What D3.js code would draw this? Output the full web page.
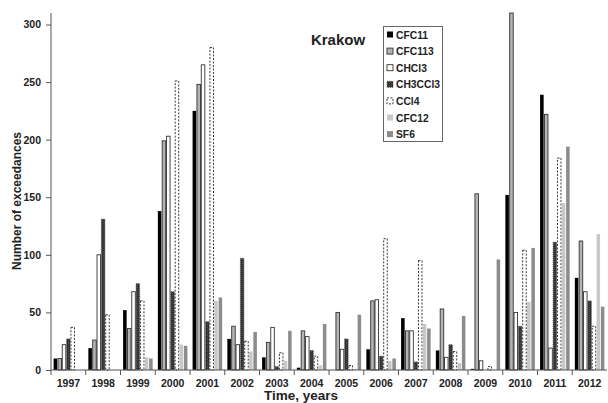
<!DOCTYPE html>
<html>
<head>
<meta charset="utf-8">
<script src="https://cdn.jsdelivr.net/npm/d3@7"></script>
<style>
  body { margin: 0; background: #fff; }
  text { font-family: Arial, "Liberation Sans", sans-serif; font-weight: bold; fill: #222; }
</style>
</head>
<body>
<svg id="chart" width="608" height="403"></svg>
<script>
const years = ["1997","1998","1999","2000","2001","2002","2003","2004","2005","2006","2007","2008","2009","2010","2011","2012"];
const seriesNames = ["CFC11","CFC113","CHCl3","CH3CCl3","CCl4","CFC12","SF6"];

const cfc11   = [10, 19, 52, 138, 225, 27, 11,  2,  0, 18, 45, 17,   1, 152, 239,  80];
const cfc113  = [10, 26, 36, 199, 248, 38, 24, 34, 50, 60, 34, 53, 153, 310, 222, 112];
const chcl3   = [22,100, 68, 203, 265, 22, 37, 29, 18, 61, 34, 11,   8,  50,  19,  68];
const ch3ccl3 = [27,131, 75,  68,  42, 97,  3, 17, 27, 12,  7, 22,   0,  38, 111,  60];
const ccl4    = [37, 48, 60, 251, 280, 25, 15, 12,  4,114, 95, 16,   3, 104, 184,  38];
const cfc12   = [ 0,  0, 11,  22,  60, 16,  8,  4,  1,  8, 40,  6,   0,  59, 145, 118];
const sf6     = [ 0,  0, 10,  21,  63, 33, 34, 40, 48, 10, 36, 47,  96, 106, 194,  55];

const yTicks = [0, 50, 100, 150, 200, 250, 300];

const allSeries = [cfc11, cfc113, chcl3, ch3ccl3, ccl4, cfc12, sf6];

// bar looks per series
const looks = {
  "CFC11":   {fill: "#000", stroke: "none", dash: null},
  "CFC113":  {fill: "#b4b4b4", stroke: "#333", dash: null},
  "CHCl3":   {fill: "#fff", stroke: "#333", dash: null},
  "CH3CCl3": {fill: "url(#speckle)", stroke: "#555", dash: "1,1"},
  "CCl4":    {fill: "#fff", stroke: "#222", dash: "2,1.5"},
  "CFC12":   {fill: "#c8c8c8", stroke: "none", dash: null},
  "SF6":     {fill: "#8c8c8c", stroke: "none", dash: null}
};

const svg = d3.select("#chart");

// speckled pattern for CH3CCl3
const pat = svg.append("defs").append("pattern")
  .attr("id", "speckle")
  .attr("width", 2).attr("height", 2)
  .attr("patternUnits", "userSpaceOnUse");
pat.append("rect").attr("width", 2).attr("height", 2).attr("fill", "#2e2e2e");
pat.append("rect").attr("x", 1).attr("y", 1).attr("width", 1).attr("height", 1).attr("fill", "#555");

const plotLeft = 51, plotRight = 607, plotTop = 13, plotBottom = 370;

let x0 = d3.scaleBand()
  .domain(years)
  .range([plotLeft, plotRight]);

let x1 = d3.scaleBand()
  .domain(seriesNames)
  .range([2.2, x0.bandwidth() - 2.2]);

let y = d3.scaleLinear()
  .domain([0, 310])
  .range([plotBottom, plotTop]);

// bars
years.forEach(function(yr, i) {
  let g = svg.append("g").attr("transform", "translate(" + x0(yr) + ",0)");
  seriesNames.forEach(function(name, j) {
    let v = allSeries[j][i];
    if (v <= 0) return;
    let lk = looks[name];
    g.append("rect")
      .attr("x", x1(name) + 0.4)
      .attr("y", y(v))
      .attr("width", x1.bandwidth() - 0.8)
      .attr("height", y(0) - y(v))
      .attr("fill", lk.fill)
      .attr("stroke", lk.stroke)
      .attr("stroke-width", 0.9)
      .attr("stroke-dasharray", lk.dash);
  });
});

// y axis
let yAxis = svg.append("g")
  .attr("transform", "translate(" + plotLeft + ",0)")
  .call(d3.axisLeft(y).tickValues(yTicks).tickSize(5).tickPadding(5));
yAxis.select(".domain").attr("d", "M0," + plotTop + "V" + plotBottom).attr("stroke", "#555");
yAxis.selectAll(".tick line").attr("stroke", "#555");
yAxis.selectAll("text").style("font-size", "10.5px").style("font-family", "Arial, 'Liberation Sans', sans-serif").style("font-weight", "bold").attr("fill", "#222");

// x axis
let xAxis = svg.append("g")
  .attr("transform", "translate(0," + plotBottom + ")")
  .call(d3.axisBottom(x0).tickSize(0).tickPadding(10));
xAxis.select(".domain").attr("d", "M" + plotLeft + ",0H" + plotRight).attr("stroke", "#555");
xAxis.selectAll("text").style("font-size", "10.5px").style("font-family", "Arial, 'Liberation Sans', sans-serif").style("font-weight", "bold").attr("fill", "#222");

// category separators
svg.append("g").selectAll("line")
  .data(years)
  .enter()
  .append("line")
  .attr("x1", d => x0(d))
  .attr("x2", d => x0(d))
  .attr("y1", plotBottom)
  .attr("y2", plotBottom + 5)
  .attr("stroke", "#555");

// axis titles
svg.append("text")
  .attr("transform", "translate(21,201) rotate(-90)")
  .attr("text-anchor", "middle")
  .style("font-size", "12px")
  .text("Number of exceedances");

svg.append("text")
  .attr("x", 301)
  .attr("y", 400)
  .attr("text-anchor", "middle")
  .style("font-size", "13.5px")
  .text("Time, years");

svg.append("text")
  .attr("x", 338)
  .attr("y", 45)
  .attr("text-anchor", "middle")
  .style("font-size", "15px")
  .text("Krakow");

// legend
let legend = svg.append("g");
legend.append("rect")
  .attr("x", 383.5).attr("y", 26.5)
  .attr("width", 59).attr("height", 115)
  .attr("fill", "#fff")
  .attr("stroke", "#666")
  .attr("stroke-width", 1);

seriesNames.forEach(function(name, i) {
  let cy = 34.5 + i * 16.6;
  let lk = looks[name];
  legend.append("rect")
    .attr("x", 387).attr("y", cy - 3)
    .attr("width", 6).attr("height", 6)
    .attr("fill", lk.fill)
    .attr("stroke", lk.stroke)
    .attr("stroke-width", 0.9)
    .attr("stroke-dasharray", lk.dash);
  legend.append("text")
    .attr("x", 396)
    .attr("y", cy + 4)
    .style("font-size", "10.3px")
    .text(name);
});
</script>
</body>
</html>
